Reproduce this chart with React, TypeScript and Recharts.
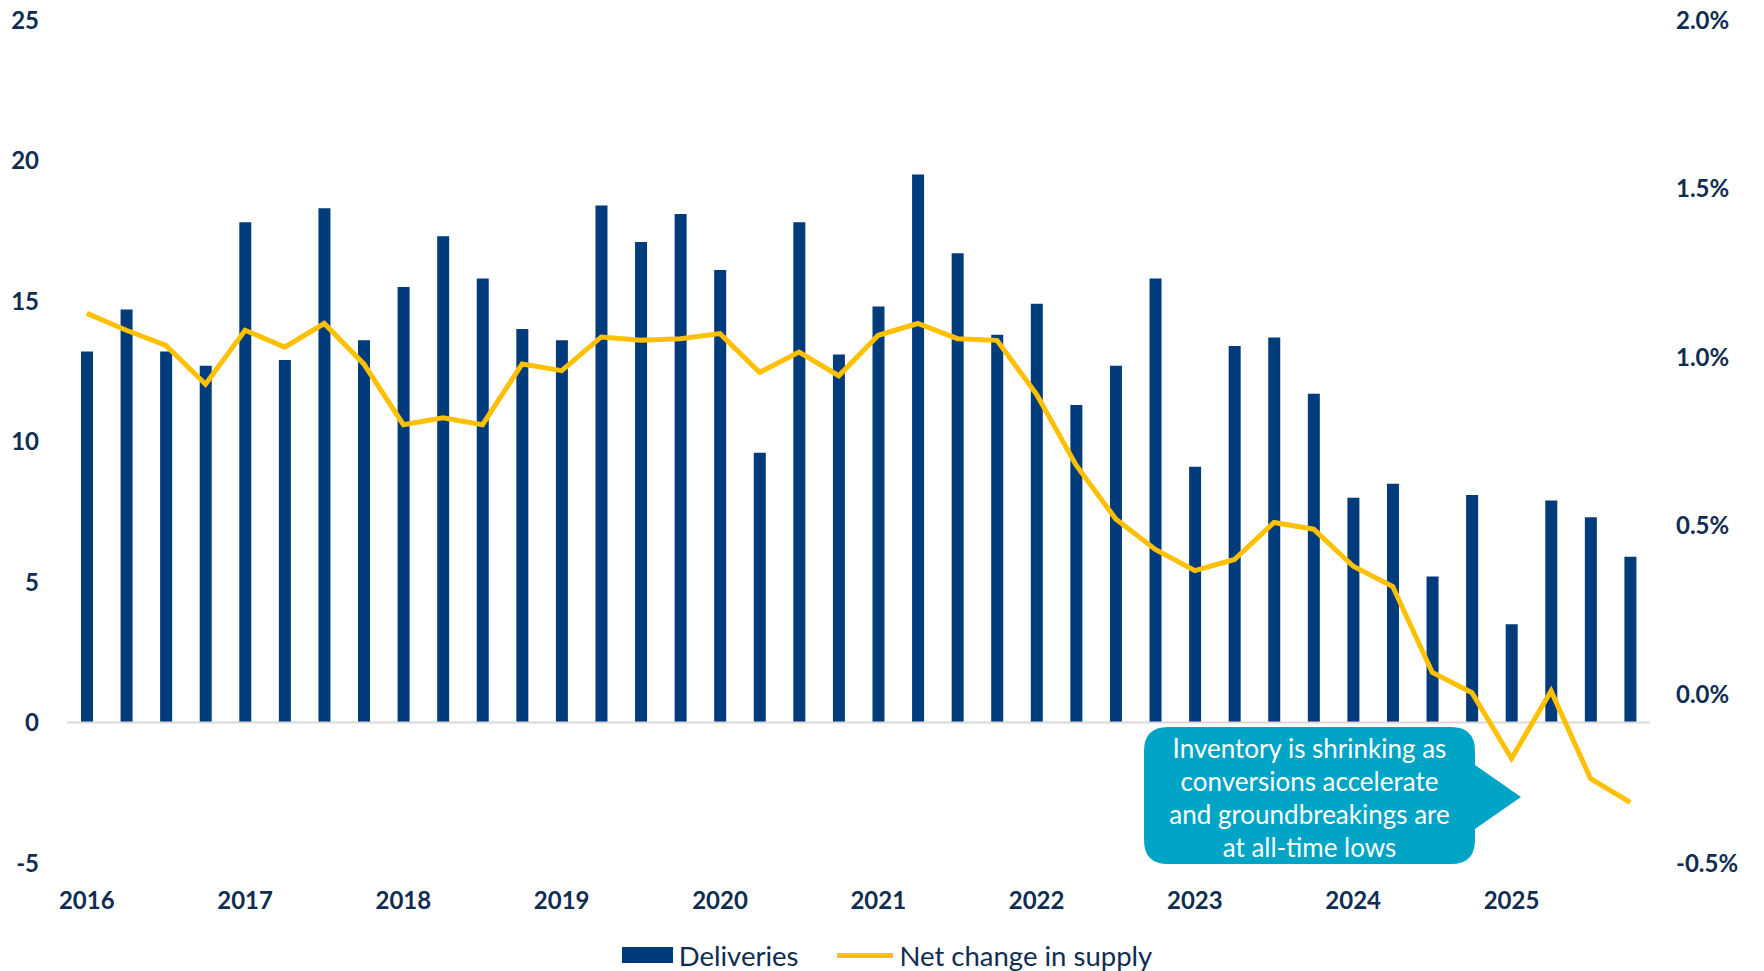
import React from "react";
import { ComposedChart, XAxis, YAxis, Bar, Line, Legend, ReferenceLine } from "recharts";

// quarters 2016 Q1 .. 2025 Q4
const years = [2016, 2017, 2018, 2019, 2020, 2021, 2022, 2023, 2024, 2025];
const quarters = years.flatMap((y) => ["Q1", "Q2", "Q3", "Q4"].map((q) => `${y} ${q}`));

// deliveries (left axis)
const deliveries = [
  13.2, 14.7, 13.2, 12.7, 17.8, 12.9, 18.3, 13.6,
  15.5, 17.3, 15.8, 14.0, 13.6, 18.4, 17.1, 18.1,
  16.1, 9.6, 17.8, 13.1, 14.8, 19.5, 16.7, 13.8,
  14.9, 11.3, 12.7, 15.8, 9.1, 13.4, 13.7, 11.7,
  8.0, 8.5, 5.2, 8.1, 3.5, 7.9, 7.3, 5.9,
];

// net change in supply, % (right axis)
const netChange = [
  1.13, 1.08, 1.035, 0.92, 1.08, 1.03, 1.1, 0.98,
  0.8, 0.82, 0.8, 0.98, 0.96, 1.06, 1.05, 1.055,
  1.07, 0.955, 1.015, 0.945, 1.065, 1.1, 1.055, 1.05,
  0.89, 0.68, 0.52, 0.43, 0.367, 0.4, 0.51, 0.49,
  0.38, 0.32, 0.065, 0.005, -0.19, 0.01, -0.25, -0.32,
];

const leftTicks = [-5, 0, 5, 10, 15, 20, 25];
const rightTicks = [-0.5, 0, 0.5, 1.0, 1.5, 2.0];

const calloutLines = [
  "Inventory is shrinking as",
  "conversions accelerate",
  "and groundbreakings are",
  "at all-time lows",
];

const data = quarters.map((q, i) => ({
  quarter: q,
  deliveries: deliveries[i],
  net: netChange[i],
}));

const NAVY = "#003B7B";
const GOLD = "#FFC000";
const TEXT = "#0F2D52";
const FONT = "Lato, 'Noto Sans', sans-serif";

const renderLegend = () => (
  <div
    style={{
      display: "flex",
      justifyContent: "center",
      alignItems: "center",
      height: 30,
      fontFamily: FONT,
      fontSize: 27.5,
      color: TEXT,
      paddingLeft: 10,
    }}
  >
    <div style={{ display: "flex", alignItems: "center", marginRight: 39 }}>
      <div style={{ width: 51, height: 16, background: NAVY, marginRight: 6 }} />
      <span>Deliveries</span>
    </div>
    <div style={{ display: "flex", alignItems: "center" }}>
      <div style={{ width: 56, height: 5, background: GOLD, marginRight: 6 }} />
      <span>Net change in supply</span>
    </div>
  </div>
);

const Callout = () => {
  // box + arrow pointing right toward the latest points
  const x0 = 1144, x1 = 1475, y0 = 727, y1 = 864, r = 24;
  const path = `M ${x0 + r} ${y0} L ${x1 - r} ${y0} Q ${x1} ${y0} ${x1} ${y0 + r}
    L ${x1} 765 L 1521 797 L ${x1} 829 L ${x1} ${y1 - r} Q ${x1} ${y1} ${x1 - r} ${y1}
    L ${x0 + r} ${y1} Q ${x0} ${y1} ${x0} ${y1 - r} L ${x0} ${y0 + r} Q ${x0} ${y0} ${x0 + r} ${y0} Z`;
  return (
    <svg width={1764} height={971} style={{ position: "absolute", left: 0, top: 0, pointerEvents: "none" }}>
      <path d={path} fill="#00A4C4" />
      {calloutLines.map((t, i) => (
        <text
          key={t}
          x={(x0 + x1) / 2}
          y={748 + i * 33}
          textAnchor="middle"
          dominantBaseline="central"
          fill="#ffffff"
          fontFamily={FONT}
          fontSize={26}
        >
          {t}
        </text>
      ))}
    </svg>
  );
};

export default function App() {
  return (
    <div style={{ position: "absolute", left: 0, top: 0, width: 1764, height: 971, background: "#fff" }}>
      <ComposedChart
        width={1764}
        height={971}
        data={data}
        margin={{ top: 20, right: 0, bottom: 1, left: 0 }}
        barCategoryGap={0}
      >
        <XAxis
          dataKey="quarter"
          interval={0}
          axisLine={false}
          tickLine={false}
          tickSize={0}
          tickMargin={29}
          height={77}
          tick={{ fill: TEXT, fontSize: 24, fontFamily: FONT, fontWeight: 700 }}
          tickFormatter={(q: string) => (q.endsWith("Q1") ? q.slice(0, 4) : "")}
        />
        <YAxis
          yAxisId="left"
          domain={[-5, 25]}
          ticks={leftTicks}
          width={67}
          axisLine={false}
          tickLine={false}
          tickSize={0}
          tickMargin={28}
          tick={{ fill: TEXT, fontSize: 24, fontFamily: FONT, fontWeight: 700 }}
        />
        <YAxis
          yAxisId="right"
          orientation="right"
          domain={[-0.5, 2.0]}
          ticks={rightTicks}
          width={114}
          axisLine={false}
          tickLine={false}
          tickSize={0}
          tickMargin={26}
          tick={{ fill: TEXT, fontSize: 24, fontFamily: FONT, fontWeight: 700, textAnchor: "start" }}
          tickFormatter={(v: number) => `${v.toFixed(1)}%`}
        />
        <ReferenceLine yAxisId="left" y={0} stroke="#d9d9d9" strokeWidth={2} />
        <Bar yAxisId="left" dataKey="deliveries" name="Deliveries" fill={NAVY} barSize={12} isAnimationActive={false} />
        <Line
          yAxisId="right"
          dataKey="net"
          name="Net change in supply"
          type="linear"
          stroke={GOLD}
          strokeWidth={5}
          dot={false}
          activeDot={false}
          isAnimationActive={false}
        />
        <Legend verticalAlign="bottom" content={renderLegend} />
      </ComposedChart>
      <Callout />
    </div>
  );
}
